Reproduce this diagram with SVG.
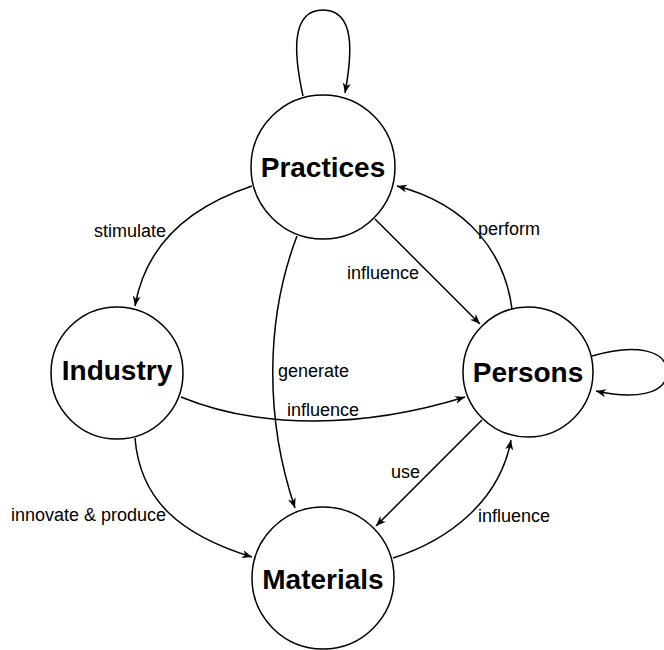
<svg xmlns="http://www.w3.org/2000/svg" width="664" height="650" viewBox="0 0 664 650">
  <defs>
    <marker id="arrow" viewBox="0 0 10 10" refX="10" refY="5" markerWidth="10" markerHeight="10" markerUnits="userSpaceOnUse" orient="auto">
      <path d="M0,1 L10,5 L0,9 L3,5 z" fill="#000"/>
    </marker>
    <style>
      .node circle { fill: #fff; stroke: #000; stroke-width: 1.5; }
      .node text { font-family: "Liberation Sans", Arial, sans-serif; font-size: 28px; font-weight: bold; text-anchor: middle; fill: #000; }
      .edge { fill: none; stroke: #000; stroke-width: 1.5; marker-end: url(#arrow); }
      .label { font-family: "Liberation Sans", Arial, sans-serif; font-size: 18px; fill: #000; }
    </style>
  </defs>

  <rect width="664" height="650" fill="#fff"/>

  <g id="connectors">
    <!-- Practices self-loop -->
    <path class="edge" d="M303,96 C294,55 290,10 323,10 C356,10 352,55 345,93"/>
    <!-- Persons self-loop -->
    <path class="edge" d="M592,356 C635,343 667,350 667,372 C667,394 635,400 596,391"/>
    <!-- Practices -> Industry -->
    <path class="edge" d="M252,186 Q150,220 135,306"/>
    <!-- Practices -> Persons -->
    <path class="edge" d="M375,219 L480,324"/>
    <!-- Persons -> Practices -->
    <path class="edge" d="M512,309 C505,255 470,205 397,186"/>
    <!-- Practices -> Materials -->
    <path class="edge" d="M297,236 C265,320 265,420 295,508"/>
    <!-- Industry -> Persons -->
    <path class="edge" d="M181,397 C261,430 365,428 465,397"/>
    <!-- Industry -> Materials -->
    <path class="edge" d="M135,438 C140,500 180,535 252,557"/>
    <!-- Persons -> Materials -->
    <path class="edge" d="M482,420 L376,526"/>
    <!-- Materials -> Persons -->
    <path class="edge" d="M393,558 C450,540 500,500 511,440"/>
  </g>

  <g id="edge-labels">
    <text class="label" x="94" y="237">stimulate</text>
    <text class="label" x="478" y="235">perform</text>
    <text class="label" x="347" y="279">influence</text>
    <text class="label" x="278" y="377">generate</text>
    <text class="label" x="287" y="416">influence</text>
    <text class="label" x="391" y="478">use</text>
    <text class="label" x="478" y="522">influence</text>
    <text class="label" x="11" y="521">innovate &amp; produce</text>
  </g>

  <g id="practices" class="node">
    <circle cx="323" cy="167" r="72"/>
    <text x="323" y="177">Practices</text>
  </g>
  <g id="industry" class="node">
    <circle cx="117" cy="373" r="66"/>
    <text x="117" y="380">Industry</text>
  </g>
  <g id="persons" class="node">
    <circle cx="528" cy="372" r="65"/>
    <text x="528" y="382">Persons</text>
  </g>
  <g id="materials" class="node">
    <circle cx="323" cy="578" r="71"/>
    <text x="323" y="589">Materials</text>
  </g>
</svg>
